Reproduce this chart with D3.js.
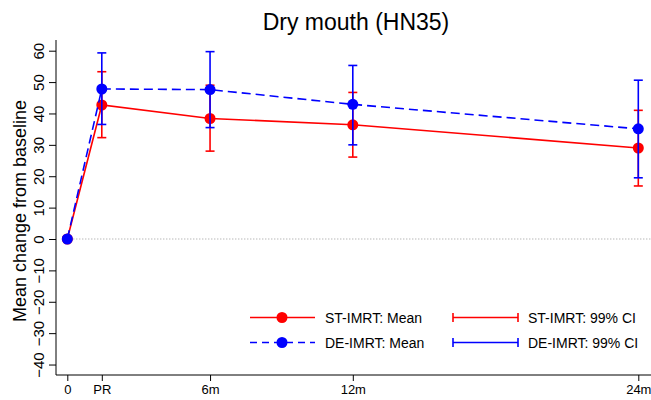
<!DOCTYPE html>
<html><head><meta charset="utf-8">
<script src="https://cdn.jsdelivr.net/npm/d3@7"></script>
<style>body{margin:0;background:#fff}svg{display:block}text{font-family:"Liberation Sans",Arial,sans-serif}</style>
</head><body>
<script>
const timepoints = [0, 1.45, 6, 12, 24];
const tickLabels = ["0", "PR", "6m", "12m", "24m"];
const yTicks = [-40, -30, -20, -10, 0, 10, 20, 30, 40, 50, 60];
const stMean = [0, 42.7, 38.4, 36.4, 29.0];
const stLow  = [null, 32.3, 28.0, 26.1, 16.9];
const stHigh = [null, 53.3, 49.0, 46.7, 41.0];
const deMean = [0, 47.8, 47.6, 42.9, 35.1];
const deLow  = [null, 36.5, 35.5, 30.0, 19.5];
const deHigh = [null, 59.3, 59.7, 55.3, 50.6];

(function () {
const W = 651, H = 400;
const svg = d3.select("body").append("svg").attr("width", W).attr("height", H);
const x = d3.scaleLinear().domain([0, 24]).range([67.3, 638.3]);
const y = d3.scaleLinear().domain([0, 60]).range([239, 50.7]);
const pLeft = 56, pBottom = 375, pTop = 40, pRight = 651;

svg.append("text").attr("x", 356).attr("y", 30).attr("text-anchor", "middle")
  .attr("font-size", 23).text("Dry mouth (HN35)");
svg.append("text").attr("transform", `translate(26,211) rotate(-90)`)
  .attr("text-anchor", "middle").attr("font-size", 18).text("Mean change from baseline");

const yAxis = d3.axisLeft(y).tickValues(yTicks).tickSize(7).tickFormat(d3.format("d"));
const gy = svg.append("g").attr("transform", `translate(${pLeft},0)`).call(yAxis);
gy.select(".domain").remove();
gy.selectAll(".tick line").attr("stroke", "#000");
gy.selectAll(".tick text").attr("font-size", 15).attr("fill", "#000")
  .attr("x", null).attr("dy", null).attr("text-anchor", "middle")
  .attr("transform", "translate(-12.5,0) rotate(-90)").attr("y", 0);
svg.append("line").attr("x1", pLeft).attr("x2", pLeft).attr("y1", pTop).attr("y2", pBottom).attr("stroke", "#000");

const xAxis = d3.axisBottom(x).tickValues(timepoints).tickSize(6).tickFormat((d, i) => tickLabels[i]);
const gx = svg.append("g").attr("transform", `translate(0,${pBottom})`).call(xAxis);
gx.select(".domain").remove();
gx.selectAll(".tick line").attr("stroke", "#000");
gx.selectAll(".tick text").attr("font-size", 13).attr("fill", "#000").attr("y", 10).attr("dy", "0.71em");
svg.append("line").attr("x1", pLeft).attr("x2", pRight).attr("y1", pBottom).attr("y2", pBottom).attr("stroke", "#000");

svg.append("line").attr("x1", x(0)).attr("x2", pRight).attr("y1", y(0)).attr("y2", y(0))
  .attr("stroke", "#999").attr("stroke-width", 1).attr("stroke-dasharray", "1,2");

function series(mean, lo, hi, color, dash) {
  const g = svg.append("g");
  const pts = timepoints.map((t, i) => ({t, m: mean[i], lo: lo[i], hi: hi[i]}));
  g.append("path").datum(pts)
    .attr("d", d3.line().x(d => x(d.t)).y(d => y(d.m)))
    .attr("fill", "none").attr("stroke", color).attr("stroke-width", 1.6)
    .attr("stroke-dasharray", dash);
  const ci = pts.filter(d => d.lo != null);
  g.selectAll(".ci").data(ci).join("line")
    .attr("x1", d => x(d.t)).attr("x2", d => x(d.t))
    .attr("y1", d => y(d.lo)).attr("y2", d => y(d.hi))
    .attr("stroke", color).attr("stroke-width", 1.6);
  ["lo", "hi"].forEach(k => {
    g.selectAll(".cap" + k).data(ci).join("line")
      .attr("x1", d => x(d.t) - 4.5).attr("x2", d => x(d.t) + 4.5)
      .attr("y1", d => y(d[k])).attr("y2", d => y(d[k]))
      .attr("stroke", color).attr("stroke-width", 1.6);
  });
  g.selectAll("circle").data(pts).join("circle")
    .attr("cx", d => x(d.t)).attr("cy", d => y(d.m)).attr("r", 5.5).attr("fill", color);
}
series(stMean, stLow, stHigh, "#ff0000", null);
series(deMean, deLow, deHigh, "#0000ff", "9,5");

const leg = [
  {label: "ST-IMRT: Mean", color: "#ff0000", dash: null, type: "mean", lx: 250, ly: 317.5},
  {label: "DE-IMRT: Mean", color: "#0000ff", dash: "7,5", type: "mean", lx: 250, ly: 342.5},
  {label: "ST-IMRT: 99% CI", color: "#ff0000", dash: null, type: "ci", lx: 453, ly: 317.5},
  {label: "DE-IMRT: 99% CI", color: "#0000ff", dash: null, type: "ci", lx: 453, ly: 342.5}
];
leg.forEach(d => {
  const g = svg.append("g");
  g.append("line").attr("x1", d.lx).attr("x2", d.lx + 65).attr("y1", d.ly).attr("y2", d.ly)
    .attr("stroke", d.color).attr("stroke-width", 1.6).attr("stroke-dasharray", d.dash);
  if (d.type === "mean") {
    g.append("circle").attr("cx", d.lx + 32).attr("cy", d.ly).attr("r", 5.5).attr("fill", d.color);
  } else {
    [d.lx, d.lx + 65].forEach(cx => g.append("line").attr("x1", cx).attr("x2", cx)
      .attr("y1", d.ly - 4.5).attr("y2", d.ly + 4.5).attr("stroke", d.color).attr("stroke-width", 1.6));
  }
  g.append("text").attr("x", d.lx + 75).attr("y", d.ly + 5).attr("font-size", 14).text(d.label);
});
})();
</script>
</body></html>
